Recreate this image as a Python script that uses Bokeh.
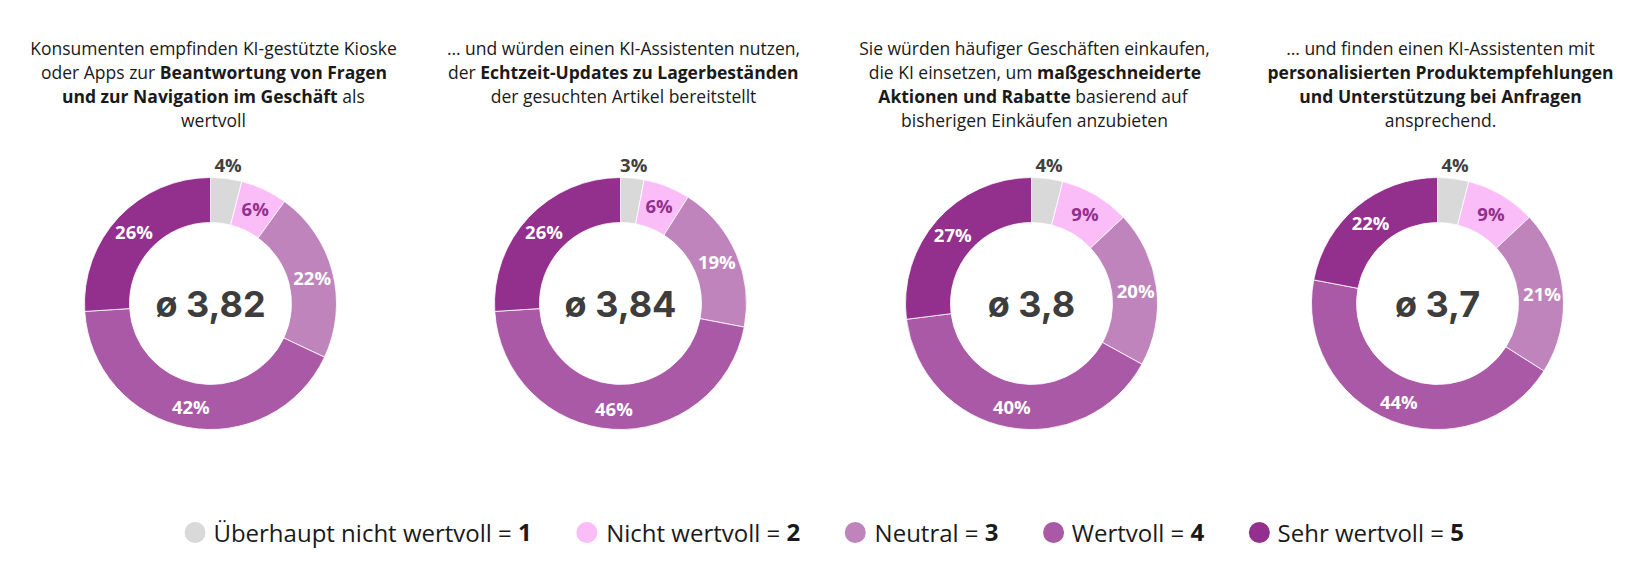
import math
from bokeh.plotting import figure
from bokeh.models import Range1d, ColumnDataSource
from bokeh.embed import file_html
from bokeh.resources import INLINE
from bokeh.core.properties import value

# ---------------- data ----------------
levels = ["Überhaupt nicht wertvoll", "Nicht wertvoll", "Neutral", "Wertvoll", "Sehr wertvoll"]
scores = ["1", "2", "3", "4", "5"]
colors = ["#d9d9d9", "#fbbdf7", "#bf84bb", "#a959a5", "#932f8d"]

kiosk_apps = [4, 6, 22, 42, 26]
echtzeit_updates = [3, 6, 19, 46, 26]
aktionen_rabatte = [4, 9, 20, 40, 27]
produktempfehlungen = [4, 9, 21, 44, 22]
averages = ["3,82", "3,84", "3,8", "3,7"]

title_1 = [[("Konsumenten empfinden KI-gestützte Kioske", 0)],
           [("oder Apps zur", 0), ("Beantwortung von Fragen", 1)],
           [("und zur Navigation im Geschäft", 1), ("als", 0)],
           [("wertvoll", 0)]]
title_2 = [[("… und würden einen KI-Assistenten nutzen,", 0)],
           [("der", 0), ("Echtzeit-Updates zu Lagerbeständen", 1)],
           [("der gesuchten Artikel bereitstellt", 0)]]
title_3 = [[("Sie würden häufiger Geschäften einkaufen,", 0)],
           [("die KI einsetzen, um", 0), ("maßgeschneiderte", 1)],
           [("Aktionen und Rabatte", 1), ("basierend auf", 0)],
           [("bisherigen Einkäufen anzubieten", 0)]]
title_4 = [[("… und finden einen KI-Assistenten mit", 0)],
           [("personalisierten Produktempfehlungen", 1)],
           [("und Unterstützung bei Anfragen", 1)],
           [("ansprechend.", 0)]]

series = [kiosk_apps, echtzeit_updates, aktionen_rabatte, produktempfehlungen]
titles = [title_1, title_2, title_3, title_4]

# ---------------- layout helpers ----------------
W, H = 1634, 558
OFF = 0


def fx(x):
    return x - OFF


def fy(y):
    return H - (y - OFF)


REG = {' ': 0.26, ',': 0.245, '.': 0.266, '-': 0.322, '…': 0.80, '=': 0.556,
       'a': 0.556, 'b': 0.613, 'c': 0.476, 'd': 0.613, 'e': 0.561, 'f': 0.339,
       'g': 0.548, 'h': 0.614, 'i': 0.253, 'j': 0.253, 'k': 0.525, 'l': 0.253,
       'm': 0.930, 'n': 0.614, 'o': 0.604, 'p': 0.613, 'q': 0.613, 'r': 0.408,
       's': 0.477, 't': 0.353, 'u': 0.614, 'v': 0.501, 'w': 0.778, 'x': 0.524,
       'y': 0.502, 'z': 0.477, 'ä': 0.556, 'ü': 0.614, 'ö': 0.604, 'ß': 0.60,
       'A': 0.633, 'B': 0.648, 'E': 0.556, 'F': 0.516, 'G': 0.728, 'I': 0.279,
       'K': 0.578, 'L': 0.502, 'N': 0.805, 'P': 0.617, 'R': 0.617, 'S': 0.549,
       'U': 0.738, 'W': 0.928, 'Ü': 0.738, '1': 0.556, '2': 0.556, '3': 0.556,
       '4': 0.556, '5': 0.556}


def tw(s, size, bold=False):
    w = sum(REG.get(c, 0.56) for c in s) * size
    return w * (1.07 if bold else 1.0)


p = figure(width=W, height=H, output_backend="svg", toolbar_location=None,
           x_range=Range1d(0, W), y_range=Range1d(0, H),
           x_axis_type=None, y_axis_type=None, min_border=0,
           outline_line_color=None, background_fill_color="white",
           border_fill_color="white")
p.grid.visible = False

FONT = value("Open Sans")
centers = [210, 620, 1031, 1437]
CY = 303
R_IN, R_OUT = 81, 126
T_SIZE = 17.5

for k, (vals, avg, title) in enumerate(zip(series, averages, titles)):
    cx = centers[k]
    total = float(sum(vals))
    starts, ends, mids = [], [], []
    cum = 0.0
    for v in vals:
        a0 = math.pi / 2 - 2 * math.pi * cum / total
        cum += v
        a1 = math.pi / 2 - 2 * math.pi * cum / total
        starts.append(a0)
        ends.append(a1)
        mids.append((a0 + a1) / 2)
    src = ColumnDataSource(dict(start=starts, end=ends, color=colors))
    p.annular_wedge(x=fx(cx), y=fy(CY), inner_radius=R_IN, outer_radius=R_OUT,
                    start_angle="start", end_angle="end", direction="clock",
                    fill_color="color", line_color="white", line_width=0.8,
                    source=src)

    # percentage labels
    lx, ly, lt, lc = [], [], [], []
    for i, v in enumerate(vals):
        r = 140 if i == 0 else 105
        lx.append(fx(cx) + r * math.cos(mids[i]))
        ly.append(fy(CY) + r * math.sin(mids[i]))
        lt.append(f"{v}%")
        lc.append("#404040" if i == 0 else ("#932f8d" if i == 1 else "white"))
    p.text(x=lx, y=ly, text=lt, text_color=lc, text_font=FONT,
           text_font_size="18.5px", text_font_style="bold",
           text_align="center", text_baseline="middle")

    # center average
    p.text(x=[fx(cx)], y=[fy(CY)], text=["ø " + avg], text_color="#3d3d3d",
           text_font=value("Inter"), text_font_size="36px",
           text_font_style="bold", text_align="center", text_baseline="middle")

    # title lines
    tcx = cx + 3
    for li, line in enumerate(title):
        by = 47.8 + 24 * li
        if len(line) == 1:
            t, b = line[0]
            p.text(x=[fx(tcx)], y=[fy(by)], text=[t], text_font=FONT,
                   text_font_size=f"{T_SIZE}px",
                   text_font_style="bold" if b else "normal",
                   text_color="#1a1a1a", text_align="center",
                   text_baseline="alphabetic")
        else:
            (t0, b0), (t1, b1) = line
            sp = 0.26 * T_SIZE
            w0 = tw(t0, T_SIZE, b0)
            w1 = tw(t1, T_SIZE, b1)
            left = tcx - (w0 + sp + w1) / 2
            bnd = left + w0
            p.text(x=[fx(bnd)], y=[fy(by)], text=[t0], text_font=FONT,
                   text_font_size=f"{T_SIZE}px",
                   text_font_style="bold" if b0 else "normal",
                   text_color="#1a1a1a", text_align="right",
                   text_baseline="alphabetic")
            p.text(x=[fx(bnd + sp)], y=[fy(by)], text=[t1], text_font=FONT,
                   text_font_size=f"{T_SIZE}px",
                   text_font_style="bold" if b1 else "normal",
                   text_color="#1a1a1a", text_align="left",
                   text_baseline="alphabetic")

# ---------------- legend ----------------
L_SIZE = 24
LY = 532
sp = 0.26 * L_SIZE
items = []
for lev, sc in zip(levels, scores):
    wr = tw(lev + " =", L_SIZE)
    wb = tw(sc, L_SIZE, True)
    items.append((lev + " =", sc, wr, wb))
span = 10.5 + sum(18.5 + wr + sp + wb for _, _, wr, wb in items) + 4 * 54.5
x = 824 - span / 2 + 10.5
cxs, rx, rt, bx, bt = [], [], [], [], []
for reg, sc, wr, wb in items:
    cxs.append(fx(x))
    start = x + 18.5
    rx.append(fx(start + wr))
    rt.append(reg)
    bx.append(fx(start + wr + sp))
    bt.append(sc)
    x = start + wr + sp + wb + 54.5

p.scatter(x=cxs, y=[fy(LY)] * 5, marker="circle", size=21, fill_color=colors,
          line_color=None)
p.text(x=rx, y=[fy(LY)] * 5, text=rt, text_font=FONT,
       text_font_size=f"{L_SIZE}px", text_color="#1a1a1a",
       text_align="right", text_baseline="middle")
p.text(x=bx, y=[fy(LY)] * 5, text=bt, text_font=FONT,
       text_font_size=f"{L_SIZE}px", text_font_style="bold",
       text_color="#1a1a1a", text_align="left", text_baseline="middle")

open("out.html", "w").write(file_html(p, INLINE))
